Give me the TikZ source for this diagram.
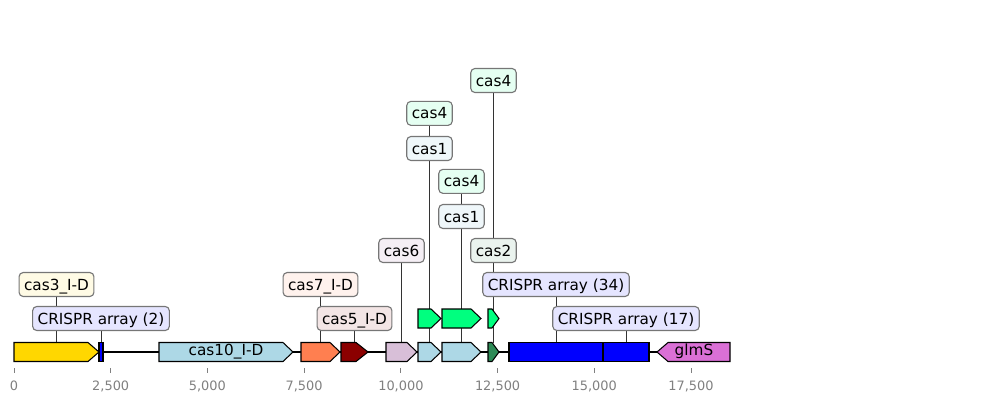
\documentclass[tikz,border=0pt]{standalone}
\usepackage{fontspec}
\setmainfont{DejaVu Sans}
\usetikzlibrary{positioning}
\definecolor{genegold}{RGB}{255, 215, 0}
\definecolor{crisprblue}{RGB}{0, 0, 255}
\definecolor{lightblue1}{RGB}{173, 216, 230}
\definecolor{coral1}{RGB}{255, 127, 80}
\definecolor{darkred1}{RGB}{139, 0, 0}
\definecolor{thistle1}{RGB}{216, 191, 216}
\definecolor{seagreen1}{RGB}{46, 139, 87}
\definecolor{orchid1}{RGB}{218, 112, 214}
\definecolor{springgreen1}{RGB}{0, 255, 127}
\definecolor{axisgray}{RGB}{128, 128, 128}
\definecolor{boxgray}{RGB}{118, 118, 118}
\pgfdeclarelayer{background}
\pgfsetlayers{background,main}

\begin{document}
\begin{tikzpicture}[x=0.72pt, y=-0.72pt,
  feat/.style={draw=black, line width=0.75pt, line join=miter},
  lbl/.style={draw=boxgray, rounded corners=3pt, line width=0.8pt, inner xsep=3.6pt, inner ysep=0pt, minimum height=17.3pt, text height=8.5pt, text depth=0.5pt, font=\fontsize{11}{13}\selectfont},
  leader/.style={draw=black!80, line width=0.5pt},
  axtick/.style={draw=axisgray, line width=0.6pt},
  ticklbl/.style={text=axisgray, anchor=base, inner sep=0pt, font=\fontsize{9.3}{11}\selectfont}]
  \useasboundingbox (0,0) rectangle (989,403);

  % Backbone
  \draw[line width=1.1pt] (14,352) -- (730,352);

  % Main track
  \draw[feat, fill=genegold] (14,342.5) -- (88,342.5) -- (99,352) -- (88,361.5) -- (14,361.5) -- cycle;
  \coordinate (fcasthree) at (56.5,342.5);
  \draw[feat, fill=crisprblue] (99,342.5) rectangle (103,361.5);
  \coordinate (fcrtwo) at (101,342.5);
  \draw[feat, fill=lightblue1] (159,342.5) -- (283,342.5) -- (293,352) -- (283,361.5) -- (159,361.5) -- cycle;
  \node[font=\fontsize{11}{13}\selectfont, anchor=base, inner sep=0pt] (tcasten) at (226,355.5) {cas10\_I-D};
  \draw[feat, fill=coral1] (301,342.5) -- (330,342.5) -- (340,352) -- (330,361.5) -- (301,361.5) -- cycle;
  \coordinate (fcasseven) at (320.5,342.5);
  \draw[feat, fill=darkred1] (341,342.5) -- (356,342.5) -- (368,352) -- (356,361.5) -- (341,361.5) -- cycle;
  \coordinate (fcasfive) at (354.5,342.5);
  \draw[feat, fill=thistle1] (386,342.5) -- (407,342.5) -- (417,352) -- (407,361.5) -- (386,361.5) -- cycle;
  \coordinate (fcassix) at (401.5,342.5);
  \draw[feat, fill=lightblue1] (418,342.5) -- (431,342.5) -- (441,352) -- (431,361.5) -- (418,361.5) -- cycle;
  \coordinate (fcasonea) at (429.5,342.5);
  \draw[feat, fill=lightblue1] (442,342.5) -- (471,342.5) -- (481,352) -- (471,361.5) -- (442,361.5) -- cycle;
  \coordinate (fcasoneb) at (461.5,342.5);
  \draw[feat, fill=seagreen1] (488,342.5) -- (492,342.5) -- (499,352) -- (492,361.5) -- (488,361.5) -- cycle;
  \coordinate (fcastwo) at (493.5,342.5);
  \draw[feat, fill=crisprblue] (509,342.5) rectangle (603,361.5);
  \coordinate (fcrthirtyfour) at (556,342.5);
  \draw[feat, fill=crisprblue] (603,342.5) rectangle (649,361.5);
  \coordinate (fcrseventeen) at (626,342.5);
  \draw[feat, fill=orchid1] (730,342.5) -- (668,342.5) -- (657,352) -- (668,361.5) -- (730,361.5) -- cycle;
  \node[font=\fontsize{11}{13}\selectfont, anchor=base, inner sep=0pt] (tglms) at (694,355.5) {glmS};

  % Second track
  \draw[feat, fill=springgreen1] (418,309) -- (431,309) -- (441,318.5) -- (431,328) -- (418,328) -- cycle;
  \coordinate (fcasfoura) at (429.5,309);
  \draw[feat, fill=springgreen1] (442,309) -- (471,309) -- (481,318.5) -- (471,328) -- (442,328) -- cycle;
  \coordinate (fcasfourb) at (461.5,309);
  \draw[feat, fill=springgreen1] (488,309) -- (492,309) -- (499,318.5) -- (492,328) -- (488,328) -- cycle;
  \coordinate (fcasfourc) at (493.5,309);

  % Labels
  \node[lbl, fill=crisprblue!10!white] (lcrtwo) at (101,318.5) {CRISPR array (2)};
  \node[lbl, fill=darkred1!10!white] (lcasfive) at (354.5,318.5) {cas5\_I-D};
  \node[lbl, fill=crisprblue!10!white] (lcrseventeen) at (626,318.5) {CRISPR array (17)};
  \node[lbl, fill=genegold!10!white] (lcasthree) at (56.5,284.5) {cas3\_I-D};
  \node[lbl, fill=coral1!10!white] (lcasseven) at (320.5,284.5) {cas7\_I-D};
  \node[lbl, fill=crisprblue!10!white] (lcrthirtyfour) at (556,284.5) {CRISPR array (34)};
  \node[lbl, fill=thistle1!25!white] (lcassix) at (401.5,250.5) {cas6};
  \node[lbl, fill=seagreen1!10!white] (lcastwo) at (493.5,250.5) {cas2};
  \node[lbl, fill=lightblue1!20!white] (lcasoneb) at (461.5,216.5) {cas1};
  \node[lbl, fill=springgreen1!10!white, above=7.2pt of lcasoneb] (lcasfourb) {cas4};
  \node[lbl, fill=lightblue1!20!white] (lcasonea) at (429.5,148.5) {cas1};
  \node[lbl, fill=springgreen1!10!white, above=7.2pt of lcasonea] (lcasfoura) {cas4};
  \node[lbl, fill=springgreen1!10!white] (lcasfourc) at (493.5,80.5) {cas4};

  % Leader lines
  \begin{pgfonlayer}{background}
    \draw[leader] (lcasthree.south) -- (fcasthree);
    \draw[leader] (lcrtwo.south) -- (fcrtwo);
    \draw[leader] (lcasseven.south) -- (fcasseven);
    \draw[leader] (lcasfive.south) -- (fcasfive);
    \draw[leader] (lcassix.south) -- (fcassix);
    \draw[leader] (lcasonea.south) -- (fcasonea);
    \draw[leader] (lcasfoura.south) -- (fcasfoura);
    \draw[leader] (lcasoneb.south) -- (fcasoneb);
    \draw[leader] (lcasfourb.south) -- (fcasfourb);
    \draw[leader] (lcastwo.south) -- (fcastwo);
    \draw[leader] (lcasfourc.south) -- (fcasfourc);
    \draw[leader] (lcrthirtyfour.south) -- (fcrthirtyfour);
    \draw[leader] (lcrseventeen.south) -- (fcrseventeen);
  \end{pgfonlayer}

  % Axis
  \draw[axtick] (14,368) -- (14,373);   \node[ticklbl] (tk0) at (14,390) {0};
  \draw[axtick] (110.7,368) -- (110.7,373); \node[ticklbl] (tk1) at (110.7,390) {2,500};
  \draw[axtick] (207.4,368) -- (207.4,373); \node[ticklbl] (tk2) at (207.4,390) {5,000};
  \draw[axtick] (304.1,368) -- (304.1,373); \node[ticklbl] (tk3) at (304.1,390) {7,500};
  \draw[axtick] (400.9,368) -- (400.9,373); \node[ticklbl] (tk4) at (400.9,390) {10,000};
  \draw[axtick] (497.6,368) -- (497.6,373); \node[ticklbl] (tk5) at (497.6,390) {12,500};
  \draw[axtick] (594.3,368) -- (594.3,373); \node[ticklbl] (tk6) at (594.3,390) {15,000};
  \draw[axtick] (691,368) -- (691,373);   \node[ticklbl] (tk7) at (691,390) {17,500};
\end{tikzpicture}
\end{document}
